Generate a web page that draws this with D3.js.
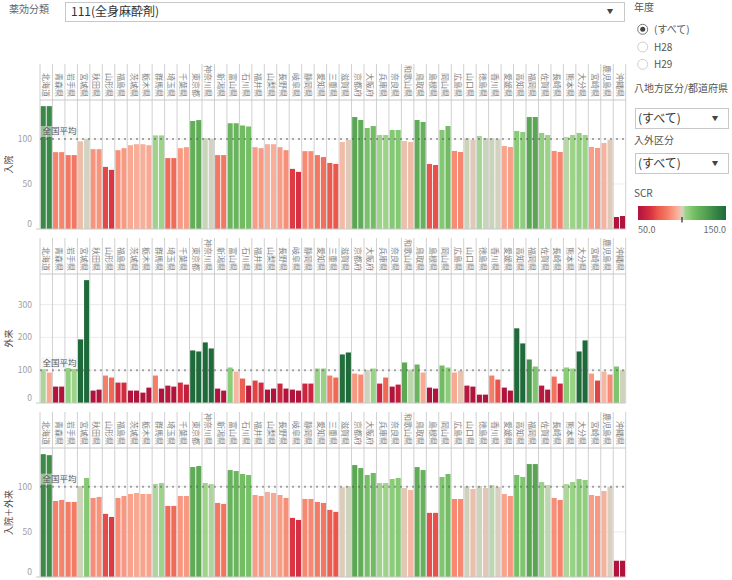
<!DOCTYPE html>
<html><head><meta charset="utf-8">
<script src="https://cdn.jsdelivr.net/npm/d3@7"></script>
<style>
body{margin:0;background:#fff;}
svg{display:block;font-family:"Noto Sans CJK JP","Noto Sans",sans-serif;}
</style></head><body>
<svg id="c" width="732" height="580"></svg>
<script>
const prefectures = ["北海道","青森県","岩手県","宮城県","秋田県","山形県","福島県","茨城県","栃木県","群馬県","埼玉県","千葉県","東京都","神奈川県","新潟県","富山県","石川県","福井県","山梨県","長野県","岐阜県","静岡県","愛知県","三重県","滋賀県","京都府","大阪府","兵庫県","奈良県","和歌山県","鳥取県","島根県","岡山県","広島県","山口県","徳島県","香川県","愛媛県","高知県","福岡県","佐賀県","長崎県","熊本県","大分県","宮崎県","鹿児島県","沖縄県"];
const years = ["H28","H29"];

// 入院 SCR
const inpatientH28 = [136.5,85.4,82.1,97.4,88.7,69.0,87.6,93.1,94.2,104,78.8,89.8,120,101,82.1,117.5,115,90.9,94.2,90.9,66.8,86.5,82.1,73.4,96.7,124.4,112.2,104.4,110,97.8,121.1,72.2,110,86.7,100.8,103.3,100.8,92.2,108.9,124.4,106.7,86.7,102.2,106.7,91.1,95.6,13.3];
const inpatientH29 = [136.5,85.4,82.1,100.3,88.7,65.7,89.8,94.2,93.1,104,78.8,90.9,121,100.3,82.1,117.5,113.9,89.8,94.2,87.6,63.5,86.5,79.9,72.3,99,121.1,114.4,104.4,110,96.7,118.9,71.1,114.4,85.6,98.9,101.1,100.2,91.1,107.8,124.4,104.4,85.6,104.4,104.4,90,99,14.4];
// 外来 SCR
const outpatientH28 = [103,50,107,193.9,37.8,83.7,62.2,37.8,31.6,83.7,53,62.2,160.2,184.7,43.9,108.2,74.5,68.4,40.8,59.2,40.8,59.2,105.1,83.7,148,89.8,100.5,59.2,50,123.5,117.3,46.9,114.3,92.9,53,25.5,83.7,46.9,227.6,132.7,53,80.6,108.2,157.1,89.8,95.9,111.2];
const outpatientH29 = [92.9,50,104,374.5,40.8,77.6,62.2,37.8,46.9,43.9,50,56.1,157.1,166.3,37.8,95.9,53,62.2,43.9,43.9,37.8,59.2,105.1,77.6,154,86.7,105.1,77.6,56.1,102,92.9,43.9,108.2,98,50,25.5,71.4,37.8,181.6,111.2,40.8,59.2,105.1,190.8,68.4,86.7,100.5];
// 入院＋外来 SCR
const totalH28 = [136,84.2,83.1,100.7,87.5,69.9,87.5,91.9,91.9,102.9,78.7,89.7,121.7,104,82,118.4,114,90.8,94.1,90.8,65.4,86.4,83.1,74.3,99.3,123.9,112.9,104,108.5,98.5,121.7,71,110.7,86.4,100.5,100.7,101.8,91.9,112.9,125,105.1,87.5,102.9,108.5,90.8,95.2,18];
const totalH29 = [134.9,85.3,83.1,109.6,88.6,66.5,89.7,93,91.9,104,78.7,89.7,122.8,102.9,80.9,117.3,112.9,89.7,93,87.5,63.2,86.4,82,72.1,100.7,120.6,115.1,104,109.6,96.3,118.4,71,114,86.4,97.4,98.5,99.6,89.7,110.7,125,101.8,85.3,105.1,107.4,89.7,99.6,18];

const panelTitles = ["入院","外来","入院＋外来"];
const ticksIn = [0,50,100];
const ticksOut = [0,100,200,300];
const ticksTotal = [0,50,100];
const refValue = 100;
const refLabel = "全国平均";

const scrStops  = [50,56,62,66,69,73,79,85,89,93,96,98,100,101.5,104,108,113,120,126,137,150];
const scrColors = ["#b0133b","#c21e3e","#d22b41","#dc3743","#e34747","#ec5a4e","#f06d59","#f6836c","#f8957e","#f9a892","#f6b6a2","#e8c3b0","#d5d1c3","#c2d7b4","#9dd489","#8ccd7a","#76c067","#63ae59","#57a352","#3a8847","#1f6a3a"];
const legendDomain = [50,150];
const legendLabels = ["50.0","150.0"];

const filterTitle = "薬効分類";
const filterValue = "111(全身麻酔剤)";
const yearTitle = "年度";
const yearOptions = ["(すべて)","H28","H29"];
const regionTitle = "八地方区分/都道府県";
const ioTitle = "入外区分";
const allLabel = "(すべて)";
const legendTitle = "SCR";

const panels = [
  {title: panelTitles[0], series: [inpatientH28, inpatientH29], ticks: ticksIn},
  {title: panelTitles[1], series: [outpatientH28, outpatientH29], ticks: ticksOut},
  {title: panelTitles[2], series: [totalH28, totalH29], ticks: ticksTotal}
];

const svg = d3.select("#c");
const color = d3.scaleLinear().domain(scrStops).range(scrColors).clamp(true);

const plotL = 40, plotR = 625.7;
const panelTops = [64, 238, 412];
const headerH = 36, plotH = 129;
const lineCol = "#d0d0d0";

const x = d3.scaleBand().domain(prefectures).range([plotL, plotR]).padding(0);
const x1 = d3.scaleBand().domain(years).range([0, x.bandwidth()]).paddingInner(0.15).paddingOuter(0.1);

panels.forEach((p, pi) => {
  const top = panelTops[pi];
  const pTop = top + headerH, pBot = pTop + plotH;
  const rows = prefectures.map((name, i) => ({name, vals: years.map((yr, k) => ({yr, v: p.series[k][i]}))}));
  const maxV = d3.max(p.series.flat());
  const y = d3.scaleLinear().domain([0, maxV * 1.05]).range([pBot, pTop]);
  const g = svg.append("g");

  g.selectAll(".grid").data(p.ticks.filter(t => t !== 0)).join("line")
    .attr("x1", plotL).attr("x2", plotR).attr("y1", d => y(d)).attr("y2", d => y(d))
    .attr("stroke", "#ececec").attr("stroke-width", 1);

  const col = g.selectAll(".col").data(rows).join("g").attr("transform", d => `translate(${x(d.name)},0)`);
  col.selectAll("rect").data(d => d.vals).join("rect")
    .attr("x", d => x1(d.yr)).attr("width", x1.bandwidth())
    .attr("y", d => y(d.v)).attr("height", d => y(0) - y(d.v))
    .attr("fill", d => color(d.v));

  const seps = d3.range(prefectures.length + 1).map(i => i === prefectures.length ? plotR : x(prefectures[i]));
  g.selectAll(".sep").data(seps).join("line")
    .attr("x1", d => d).attr("x2", d => d).attr("y1", top).attr("y2", pBot)
    .attr("stroke", lineCol).attr("stroke-width", 1);
  g.append("line").attr("x1", plotL).attr("x2", plotR).attr("y1", pTop).attr("y2", pTop)
    .attr("stroke", "#c8c8c8");
  g.append("line").attr("x1", 36).attr("x2", plotR).attr("y1", pBot).attr("y2", pBot)
    .attr("stroke", "#c8c8c8");

  g.selectAll(".lab").data(prefectures).join("text")
    .attr("transform", d => `translate(${x(d) + x.bandwidth()/2},${pTop - 3}) rotate(90)`)
    .attr("text-anchor", "end").attr("dy", "0.35em")
    .attr("font-size", 8).attr("fill", "#858585").text(d => d);

  g.selectAll(".tick").data(p.ticks).join("text")
    .attr("x", 32).attr("y", d => y(d) + (d === 0 ? -5 : 0)).attr("dy", "0.35em")
    .attr("text-anchor", "end").attr("font-size", 8.5).attr("fill", "#a0a0a0").text(d => d);

  g.append("text").attr("transform", `translate(9,${(pTop + pBot)/2}) rotate(-90)`)
    .attr("text-anchor", "middle").attr("dy", "0.35em").attr("font-size", 9).attr("fill", "#444").text(p.title);

  const ry = y(refValue);
  g.append("line").attr("x1", plotL).attr("x2", plotR).attr("y1", ry).attr("y2", ry)
    .attr("stroke", "#555").attr("stroke-opacity", 0.5).attr("stroke-width", 2).attr("stroke-dasharray", "2,4");
  g.append("rect").attr("x", plotL + 0.5).attr("y", ry - 13).attr("width", 36).attr("height", 11)
    .attr("fill", "#f2f2f2").attr("fill-opacity", 0.5);
  g.append("text").attr("x", plotL + 2.5).attr("y", ry - 7.5).attr("dy", "0.35em")
    .attr("font-size", 8.5).attr("fill", "#555").text(refLabel);
});

svg.append("text").attr("x", 9).attr("y", 9).attr("dy", "0.35em").attr("font-size", 10).attr("fill", "#666").text(filterTitle);
svg.append("rect").attr("x", 65.5).attr("y", 2.5).attr("width", 559).attr("height", 19).attr("fill", "#fff").attr("stroke", "#c8c8c8");
svg.append("text").attr("x", 71).attr("y", 12).attr("dy", "0.35em").attr("font-size", 12).attr("fill", "#333").text(filterValue);
svg.append("text").attr("x", 610).attr("y", 12).attr("dy", "0.35em").attr("text-anchor", "middle").attr("font-size", 6.5).attr("fill", "#444").text("▼");

const rx = 634;
svg.append("text").attr("x", rx).attr("y", 7).attr("dy", "0.35em").attr("font-size", 10).attr("fill", "#555").text(yearTitle);
const radioY = [29.3, 47, 64.3];
yearOptions.forEach((o, i) => {
  svg.append("circle").attr("cx", 642.7).attr("cy", radioY[i]).attr("r", 5).attr("fill", "#fff")
    .attr("stroke", i === 0 ? "#777" : "#cfcfcf");
  if (i === 0) svg.append("circle").attr("cx", 642.7).attr("cy", radioY[i]).attr("r", 2.5).attr("fill", "#444");
  svg.append("text").attr("x", 654).attr("y", radioY[i]).attr("dy", "0.35em").attr("font-size", 10).attr("fill", "#555").text(o);
});
svg.append("text").attr("x", rx).attr("y", 88).attr("dy", "0.35em").attr("font-size", 10).attr("fill", "#555").text(regionTitle);
function dropdown(y0) {
  svg.append("rect").attr("x", 635.5).attr("y", y0 + 0.5).attr("width", 93).attr("height", 20).attr("fill", "#fff").attr("stroke", "#c8c8c8");
  svg.append("text").attr("x", 638).attr("y", y0 + 10.5).attr("dy", "0.35em").attr("font-size", 12).attr("fill", "#333").text(allLabel);
  svg.append("text").attr("x", 715).attr("y", y0 + 10.5).attr("dy", "0.35em").attr("text-anchor", "middle").attr("font-size", 6.5).attr("fill", "#444").text("▼");
}
dropdown(108);
svg.append("text").attr("x", rx).attr("y", 140).attr("dy", "0.35em").attr("font-size", 10).attr("fill", "#555").text(ioTitle);
dropdown(153);
svg.append("text").attr("x", rx).attr("y", 193).attr("dy", "0.35em").attr("font-size", 10).attr("fill", "#555").text(legendTitle);

const defs = svg.append("defs");
const grad = defs.append("linearGradient").attr("id", "scrgrad").attr("x1", "0%").attr("x2", "100%");
const lx = d3.scaleLinear().domain(legendDomain).range([638, 726]);
d3.range(50, 150.01, 0.5).forEach(v => {
  grad.append("stop").attr("offset", ((v - 50) / 100 * 100) + "%").attr("stop-color", color(v));
});
svg.append("rect").attr("x", lx(50)).attr("y", 206).attr("width", lx(150) - lx(50)).attr("height", 14).attr("fill", "url(#scrgrad)");
svg.append("line").attr("x1", lx(100)).attr("x2", lx(100)).attr("y1", 217).attr("y2", 222.5).attr("stroke", "#000").attr("stroke-width", 1);
svg.append("text").attr("x", lx(50)).attr("y", 230).attr("dy", "0.35em").attr("font-size", 9).attr("fill", "#666").text(legendLabels[0]);
svg.append("text").attr("x", lx(150)).attr("y", 230).attr("dy", "0.35em").attr("text-anchor", "end").attr("font-size", 9).attr("fill", "#666").text(legendLabels[1]);
</script>
</body></html>
